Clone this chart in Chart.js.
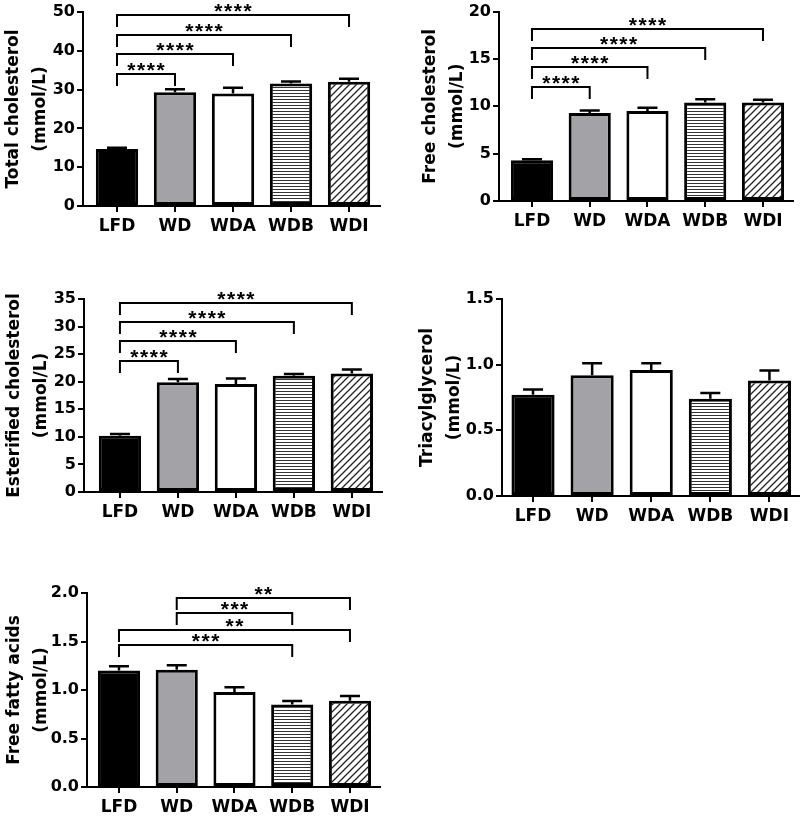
<!DOCTYPE html>
<html>
<head>
<meta charset="utf-8">
<script src="https://cdn.jsdelivr.net/npm/chart.js@4.4.1/dist/chart.umd.min.js"></script>
<style>
  body { margin: 0; background: #fff; }
  #wrap { position: relative; width: 800px; height: 818px; overflow: hidden; }
  #wrap canvas { position: absolute; }
</style>
</head>
<body>
<div id="wrap">
  <canvas id="c1"></canvas>
  <canvas id="c2"></canvas>
  <canvas id="c3"></canvas>
  <canvas id="c4"></canvas>
  <canvas id="c5"></canvas>
</div>
<script>
// groups
const categories = ['LFD', 'WD', 'WDA', 'WDB', 'WDI'];

// means and SEM
const totalCholesterol = [14.7, 29.3, 29.0, 31.6, 32.0];
const totalCholesterolSem = [0.3, 0.8, 1.5, 0.5, 0.8];
const freeCholesterol = [4.3, 9.3, 9.5, 10.4, 10.4];
const freeCholesterolSem = [0.12, 0.25, 0.35, 0.35, 0.3];
const esterifiedCholesterol = [10.2, 19.9, 19.6, 21.1, 21.5];
const esterifiedCholesterolSem = [0.3, 0.6, 1.0, 0.3, 0.7];
const triacylglycerol = [0.77, 0.92, 0.96, 0.74, 0.88];
const triacylglycerolSem = [0.04, 0.09, 0.05, 0.045, 0.075];
const freeFattyAcids = [1.20, 1.21, 0.98, 0.85, 0.89];
const freeFattyAcidsSem = [0.045, 0.045, 0.048, 0.037, 0.048];

// y tick labels
const totalTicks = [0, 10, 20, 30, 40, 50];
const freeTicks = [0, 5, 10, 15, 20];
const esterTicks = [0, 5, 10, 15, 20, 25, 30, 35];
const tagTicks = [0, 0.5, 1.0, 1.5];
const ffaTicks = [0, 0.5, 1.0, 1.5, 2.0];

// significance brackets: [from group, to group, bracket height, stars]
const totalSig = [[0, 1, 34.0, '****'], [0, 2, 39.1, '****'], [0, 3, 44.1, '****'], [0, 4, 49.2, '****']];
const freeSig = [[0, 1, 12.0, '****'], [0, 2, 14.2, '****'], [0, 3, 16.2, '****'], [0, 4, 18.2, '****']];
const esterSig = [[0, 1, 23.8, '****'], [0, 2, 27.4, '****'], [0, 3, 30.8, '****'], [0, 4, 34.3, '****']];
const tagSig = [];
const ffaSig = [[1, 4, 1.95, '**'], [1, 3, 1.79, '***'], [0, 4, 1.62, '**'], [0, 3, 1.46, '***']];

// layout: canvas box [x, y, w, h], plot area [left, top, right, bottom] in page px,
// and the x range (group index units) shown across the plot area
const panels = [
  { id: 'c1', box: [0, 0, 400, 245], area: [83, 12, 380, 206], xr: [-0.586, 4.534], title: ['Total cholesterol', '(mmol/L)'],
    values: totalCholesterol, sem: totalCholesterolSem, ticks: totalTicks, dec: 0, sig: totalSig },
  { id: 'c2', box: [417, 0, 383, 245], area: [499, 8, 793, 201], xr: [-0.571, 4.52], title: ['Free cholesterol', '(mmol/L)'],
    values: freeCholesterol, sem: freeCholesterolSem, ticks: freeTicks, dec: 0, sig: freeSig },
  { id: 'c3', box: [1, 262, 399, 268], area: [84, 299, 382, 492], xr: [-0.62, 4.52], title: ['Esterified cholesterol', '(mmol/L)'],
    values: esterifiedCholesterol, sem: esterifiedCholesterolSem, ticks: esterTicks, dec: 0, sig: esterSig },
  { id: 'c4', box: [414, 262, 386, 268], area: [502, 299, 799, 496], xr: [-0.525, 4.5], title: ['Triacylglycerol', '(mmol/L)'],
    values: triacylglycerol, sem: triacylglycerolSem, ticks: tagTicks, dec: 1, sig: tagSig },
  { id: 'c5', box: [1, 560, 399, 258], area: [87, 593, 380, 787], xr: [-0.554, 4.52], title: ['Free fatty acids', '(mmol/L)'],
    values: freeFattyAcids, sem: freeFattyAcidsSem, ticks: ffaTicks, dec: 1, sig: ffaSig }
];

Chart.defaults.font.family = '"DejaVu Sans", sans-serif';
Chart.defaults.font.weight = 'bold';
Chart.defaults.color = '#000';

// hatch fills for WDB (horizontal) and WDI (diagonal)
function hatch(ctx, kind) {
  const c = document.createElement('canvas');
  const g = c.getContext('2d');
  if (kind === 'h') {
    c.width = 4; c.height = 3;
    g.fillStyle = '#fff'; g.fillRect(0, 0, 4, 3);
    g.fillStyle = '#333'; g.fillRect(0, 0, 4, 1);
  } else {
    const s = 7;
    c.width = s; c.height = s;
    g.fillStyle = '#fff'; g.fillRect(0, 0, s, s);
    g.strokeStyle = '#222'; g.lineWidth = 1.3;
    g.beginPath();
    g.moveTo(0, s); g.lineTo(s, 0);
    g.moveTo(-1, 1); g.lineTo(1, -1);
    g.moveTo(s - 1, s + 1); g.lineTo(s + 1, s - 1);
    g.stroke();
  }
  return ctx.createPattern(c, 'repeat');
}

// error bars (upper only) and significance brackets
function marks(p) {
  return {
    id: 'marks',
    afterDatasetsDraw(chart) {
      const ctx = chart.ctx;
      const y = chart.scales.y;
      const bars = chart.getDatasetMeta(0).data;
      ctx.save();
      ctx.strokeStyle = '#000';
      ctx.fillStyle = '#000';
      ctx.lineWidth = 2.5;
      p.values.forEach((v, i) => {
        const x = bars[i].x;
        const top = y.getPixelForValue(v);
        const hi = y.getPixelForValue(v + p.sem[i]);
        ctx.beginPath();
        ctx.moveTo(x, top); ctx.lineTo(x, hi);
        ctx.moveTo(x - 10, hi); ctx.lineTo(x + 10, hi);
        ctx.stroke();
      });
      ctx.lineWidth = 2;
      ctx.font = 'bold 21px "Liberation Sans"';
      ctx.textAlign = 'center';
      ctx.textBaseline = 'alphabetic';
      const desc = ctx.measureText('*').actualBoundingBoxDescent;
      p.sig.forEach(([a, b, v, stars]) => {
        const x1 = bars[a].x, x2 = bars[b].x;
        const yy = Math.round(y.getPixelForValue(v));
        ctx.beginPath();
        ctx.moveTo(x1, yy + 12); ctx.lineTo(x1, yy); ctx.lineTo(x2, yy); ctx.lineTo(x2, yy + 12);
        ctx.stroke();
        const n = stars.length;
        for (let k = 0; k < n; k++) {
          ctx.fillText('*', (x1 + x2) / 2 + (k - (n - 1) / 2) * 9.7, yy - 3 - desc);
        }
      });
      ctx.restore();
    }
  };
}

panels.forEach(p => {
  const canvas = document.getElementById(p.id);
  const [bx, by, bw, bh] = p.box;
  const [l, t, r, b] = p.area;
  canvas.width = bw;
  canvas.height = bh;
  canvas.style.left = bx + 'px';
  canvas.style.top = by + 'px';
  const ctx = canvas.getContext('2d');

  new Chart(ctx, {
    type: 'bar',
    data: {
      datasets: [{
        data: p.values.map((v, i) => ({ x: i, y: v })),
        backgroundColor: ['#000', '#a3a3a7', '#fff', hatch(ctx, 'h'), hatch(ctx, 'd')],
        borderColor: '#000',
        borderWidth: 3,
        borderSkipped: false,
        barPercentage: 0.73,
        categoryPercentage: 1
      }]
    },
    options: {
      responsive: false,
      animation: false,
      layout: { padding: { left: 0, top: t - by, right: bx + bw - r, bottom: 0 } },
      plugins: { legend: { display: false }, tooltip: { enabled: false } },
      scales: {
        x: {
          type: 'linear',
          offset: false,
          bounds: 'ticks',
          min: p.xr[0],
          max: p.xr[1],
          afterFit: s => { s.height = by + bh - b; },
          afterBuildTicks: s => { s.ticks = categories.map((c, i) => ({ value: i })); },
          grid: { offset: false, drawOnChartArea: false, color: '#000', lineWidth: 2, tickLength: 6 },
          border: { color: '#000', width: 2 },
          ticks: { font: { size: 17, weight: 'bold' }, padding: 4, maxRotation: 0, callback: v => categories[v] }
        },
        y: {
          min: 0,
          max: p.ticks[p.ticks.length - 1],
          afterFit: s => { s.width = l - bx; },
          afterBuildTicks: s => { s.ticks = p.ticks.map(v => ({ value: v })); },
          grid: { drawOnChartArea: false, color: '#000', lineWidth: 2, tickLength: 6 },
          border: { color: '#000', width: 2 },
          ticks: { font: { size: 16, weight: 'bold' }, padding: 2, callback: v => Number(v).toFixed(p.dec) },
          title: {
            display: true,
            text: p.title,
            font: { size: 17, weight: 'bold', lineHeight: 1.6 },
            padding: { top: 0, bottom: 0 }
          }
        }
      }
    },
    plugins: [marks(p)]
  });
});
</script>
</body>
</html>
